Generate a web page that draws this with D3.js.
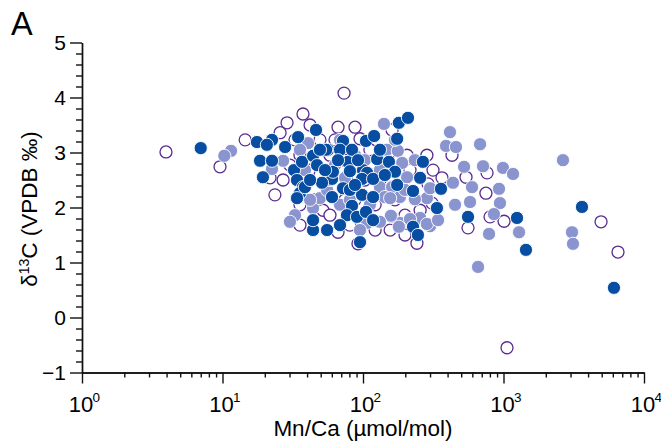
<!DOCTYPE html>
<html>
<head>
<meta charset="utf-8">
<script src="https://cdn.jsdelivr.net/npm/d3@7"></script>
<style>
  html, body { margin: 0; padding: 0; background: #fff; }
  svg { display: block; font-family: Arial, "Liberation Sans", Helvetica, sans-serif; }
</style>
</head>
<body>
<svg id="chart" width="661" height="441"></svg>
<script>
// Mn/Ca (µmol/mol) and δ13C (‰ VPDB) for the three sample groups
const openMnCa = [3.96, 9.6, 14.5, 28.8, 37.4, 73.3, 66.4, 87.7, 63.2, 95.2, 27.0, 51.9, 66.4, 92.1, 92.1,
  156, 206, 255, 310, 315, 365, 285, 242, 430, 541, 559, 750, 802, 1009, 764, 4946, 6531, 1059,
  35.6, 42.0, 30.2, 49.4, 74.5, 112, 132, 169, 199, 122, 58.2, 80.7, 35.6, 21.8, 87.7, 49.4, 42.0, 25.7, 290,
  32.8, 45.5, 74.5, 103, 122, 156, 199, 216, 35.6, 23.6, 58.2, 156, 161];
const openD13C = [3.01, 2.74, 3.23, 3.54, 3.70, 4.08, 3.46, 3.46, 3.23, 3.25, 2.50, 1.95, 1.55, 2.55, 1.34,
  3.01, 2.95, 1.95, 2.08, 2.68, 2.54, 2.95, 1.35, 2.95, 2.55, 1.63, 2.26, 1.83, 1.75, 2.63, 1.74, 1.19, -0.55,
  2.95, 2.68, 2.77, 2.59, 2.86, 3.05, 2.50, 2.14, 1.86, 1.59, 1.86, 1.68, 2.05, 2.54, 2.14, 3.23, 3.50, 3.36, 2.43,
  3.23, 2.14, 2.14, 2.50, 2.05, 1.59, 1.50, 2.68, 1.68, 2.23, 2.95, 2.32, 3.41];

const lightMnCa = [11.5, 10.3, 27.0, 22.5, 40.6, 87.7, 132, 132, 107, 44.1, 49.4, 32.8, 30.2,
  141, 148, 177, 190, 234, 206, 161, 143, 183, 161, 183, 285, 255, 300, 300, 216, 158, 132, 180, 285, 234, 156,
  416, 390, 459, 681, 524, 715, 991, 1169, 437, 597, 929, 578, 452, 944, 855, 789, 1290, 342, 659,
  2650, 3073, 3123, 63.2, 74.5, 55.5, 42.0, 68.6, 35.6,
  58.2, 80.7, 103, 38.6, 112, 68.6, 169, 199, 95.2];
const lightD13C = [3.03, 2.94, 2.85, 2.70, 3.17, 2.95, 2.68, 2.37, 1.72, 1.99, 2.17, 1.86, 1.74,
  3.52, 3.05, 3.03, 2.81, 2.86, 2.55, 2.37, 2.19, 2.19, 1.83, 1.72, 2.17, 1.81, 2.35, 1.66, 1.79, 1.85, 1.74, 1.65, 1.70, 2.15, 2.17,
  3.37, 3.12, 3.10, 3.15, 2.74, 2.75, 2.72, 2.61, 2.45, 2.37, 2.34, 2.10, 2.05, 2.08, 1.88, 1.52, 1.55, 1.77, 0.92,
  2.86, 1.55, 1.34, 2.77, 2.54, 2.32, 2.14, 2.05, 3.05,
  2.50, 2.14, 2.86, 2.68, 2.05, 3.23, 3.23, 2.32, 1.59];

const darkMnCa = [7.0, 17.6, 22.5, 20.7, 46.3, 27.9, 18.5, 22.5, 19.4, 32.3, 36.8, 44.1, 47.1, 33.9, 37.4, 35.6, 33.9,
  44.1, 55.5, 34.5, 56.4, 72.1, 68.6, 105, 120, 126, 78.2, 80.7, 100, 107, 60.2, 51.1, 38.6, 72.1, 80.7, 98.4, 118,
  60.2, 83.5, 76.9, 90.6, 105, 118, 44.1, 95.2, 180, 209, 175, 153, 169, 175, 267, 255, 227, 359, 336, 227, 246,
  559, 1248, 1445, 3619, 6111, 54.6, 61.1, 98.4, 118,
  53.7, 66.4, 87.7, 42.0, 49.4, 83.5, 92.1, 132, 143, 68.6];
const darkD13C = [3.08, 3.19, 3.23, 3.14, 3.41, 3.10, 2.85, 2.85, 2.55, 2.68, 2.83, 2.94, 2.77, 2.50, 2.37, 2.26, 2.17,
  1.59, 1.59, 3.28, 3.05, 3.21, 3.05, 3.21, 3.30, 2.88, 2.83, 2.66, 2.68, 2.63, 2.52, 2.45, 2.37, 2.35, 2.32, 2.23, 2.19,
  2.19, 2.03, 1.86, 1.83, 1.92, 1.77, 1.77, 1.37, 3.54, 3.63, 3.25, 2.83, 2.65, 2.41, 2.83, 2.54, 2.30, 2.34, 1.99, 1.65, 1.50,
  1.83, 1.81, 1.23, 2.01, 0.54, 3.05, 2.65, 2.52, 2.52,
  2.68, 2.86, 2.41, 2.50, 3.05, 3.05, 2.86, 3.05, 2.59, 1.68];

const yMajorTicks = [-1, 0, 1, 2, 3, 4, 5];
const xMajorTicks = [1, 10, 100, 1000, 10000];
const xTickExponents = ["0", "1", "2", "3", "4"];
const panelLetter = "A";

const svg = d3.select("#chart");

const x = d3.scaleLog().domain([1, 1e4]).range([82, 644]);
const y = d3.scaleLinear().domain([-1, 5]).range([372.5, 42.5]);

const axisColor = "#111";

// minor ticks: 0.2 steps on y, 2..9 per decade on x
const yMinor = d3.range(-1, 5.001, 0.2).map(v => +v.toFixed(2)).filter(v => !yMajorTicks.includes(v));
const xMinor = [];
for (let d = 1; d < 1e4; d *= 10) for (let k = 2; k <= 9; k++) xMinor.push(d * k);

const yAxisG = svg.append("g").attr("transform", "translate(82,0)");
yAxisG.call(d3.axisLeft(y).tickValues(yMinor).tickSize(6).tickSizeOuter(0).tickFormat(""));
yAxisG.call(g => g.append("g").call(d3.axisLeft(y).tickValues(yMajorTicks).tickSize(12).tickSizeOuter(0).tickPadding(4)
  .tickFormat(d3.format("d"))));

const xAxisG = svg.append("g").attr("transform", "translate(0,372.5)");
xAxisG.call(d3.axisBottom(x).tickValues(xMinor).tickSize(5).tickSizeOuter(0).tickFormat(""));
xAxisG.call(g => g.append("g").call(d3.axisBottom(x).tickValues(xMajorTicks).tickSize(11).tickSizeOuter(0).tickFormat("")));

svg.selectAll(".domain, .tick line").attr("stroke", axisColor).attr("stroke-width", 1.4);
yAxisG.selectAll("text").attr("font-size", 21).attr("fill", "#000")
  .attr("font-family", "Arial, 'Liberation Sans', sans-serif");

// x tick labels as 10 with superscript exponents
const xLab = svg.append("g").attr("font-family", "Arial, 'Liberation Sans', sans-serif").attr("fill", "#000");
xMajorTicks.forEach((v, i) => {
  xLab.append("text").attr("x", x(v) - 1).attr("y", 411.5).attr("text-anchor", "middle").attr("font-size", 22).text("10");
  xLab.append("text").attr("x", x(v) + 10.5).attr("y", 402).attr("text-anchor", "start").attr("font-size", 13.5).text(xTickExponents[i]);
});

// axis titles
svg.append("text").attr("x", 363).attr("y", 435.5).attr("text-anchor", "middle").attr("font-size", 22.5)
  .attr("fill", "#000").text("Mn/Ca (µmol/mol)");

const yt = svg.append("text").attr("transform", "translate(37,209) rotate(-90)").attr("text-anchor", "middle")
  .attr("font-size", 22.5).attr("fill", "#000");
yt.append("tspan").text("δ");
yt.append("tspan").attr("font-size", 14).attr("dy", -8).text("13");
yt.append("tspan").attr("dy", 8).text("C (VPDB ‰)");

svg.append("text").attr("x", 11).attr("y", 35).attr("font-size", 32.5).attr("fill", "#000").text(panelLetter);

// points: open group underneath, then light, then dark
const plot = svg.append("g");
const toPts = (xs, ys) => xs.map((v, i) => ({ mn: v, d: ys[i] }));

plot.append("g").selectAll("circle").data(toPts(openMnCa, openD13C)).join("circle")
  .attr("cx", d => x(d.mn)).attr("cy", d => y(d.d)).attr("r", 6)
  .attr("fill", "#fff").attr("stroke", "#5b2c8f").attr("stroke-width", 1.3);

plot.append("g").selectAll("circle").data(toPts(lightMnCa, lightD13C)).join("circle")
  .attr("cx", d => x(d.mn)).attr("cy", d => y(d.d)).attr("r", 6.6)
  .attr("fill", "#8a95cf").attr("stroke", "#fff").attr("stroke-width", 0.9);

plot.append("g").selectAll("circle").data(toPts(darkMnCa, darkD13C)).join("circle")
  .attr("cx", d => x(d.mn)).attr("cy", d => y(d.d)).attr("r", 6.6)
  .attr("fill", "#074ea2").attr("stroke", "#fff").attr("stroke-width", 0.9);
</script>
</body>
</html>
